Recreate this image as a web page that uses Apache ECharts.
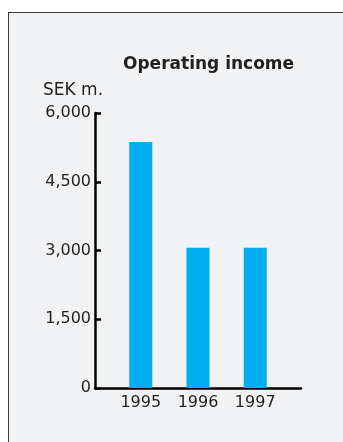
<!DOCTYPE html>
<html>
<head>
<meta charset="utf-8">
<script src="https://cdn.jsdelivr.net/npm/echarts@6/dist/echarts.min.js"></script>
<style>
  html, body { margin: 0; padding: 0; background: #ffffff; }
  #frame {
    position: absolute; left: 8px; top: 12px; right: 0; bottom: 0;
    background: #f1f2f4;
    border-top: 1.5px solid #3a3a3a;
    border-left: 1.5px solid #3a3a3a;
  }
  #chart { position: absolute; left: 0; top: 0; width: 343px; height: 442px; }
</style>
</head>
<body>
<div id="frame"></div>
<div id="chart"></div>
<script>
// Operating income, SEK millions
const years = [1995, 1996, 1997];
const operatingIncome = [5370, 3060, 3060];
const yTicks = [0, 1500, 3000, 4500, 6000];

const FONT = 'DejaVu Sans';
const INK = '#231f20';

const chart = echarts.init(document.getElementById('chart'), null, { renderer: 'canvas' });

chart.setOption({
  animation: false,
  backgroundColor: 'transparent',
  title: [
    {
      text: 'Operating income',
      left: 123, top: 56, padding: 0,
      textStyle: { fontFamily: FONT, fontSize: 17, fontWeight: 'bold', color: INK }
    },
    {
      text: 'SEK m.',
      left: 43, top: 82, padding: 0,
      textStyle: { fontFamily: FONT, fontSize: 17, fontWeight: 'normal', color: INK }
    }
  ],
  grid: { left: 95, right: 42, top: 113, bottom: 54, containLabel: false },
  xAxis: {
    type: 'value',
    min: 1994.2,
    max: 1997.8,
    splitLine: { show: false },
    axisLine: { show: true, onZero: false, lineStyle: { color: '#000', width: 2.5 } },
    axisTick: { show: false },
    axisLabel: {
      customValues: years,
      formatter: v => String(v),
      margin: 7,
      fontFamily: FONT, fontSize: 16, color: INK
    }
  },
  yAxis: {
    type: 'value',
    min: yTicks[0],
    max: yTicks[yTicks.length - 1],
    interval: yTicks[1] - yTicks[0],
    splitLine: { show: false },
    axisLine: { show: true, lineStyle: { color: '#000', width: 2.5 } },
    axisTick: { show: true, inside: true, length: 6, lineStyle: { color: '#000', width: 2.5 } },
    axisLabel: {
      margin: 4,
      formatter: v => v.toLocaleString('en-US'),
      fontFamily: FONT, fontSize: 16, color: INK
    }
  },
  series: [{
    type: 'bar',
    data: years.map((y, i) => [y, operatingIncome[i]]),
    barWidth: 23,
    itemStyle: { color: '#00aeef' }
  }]
});
</script>
</body>
</html>
